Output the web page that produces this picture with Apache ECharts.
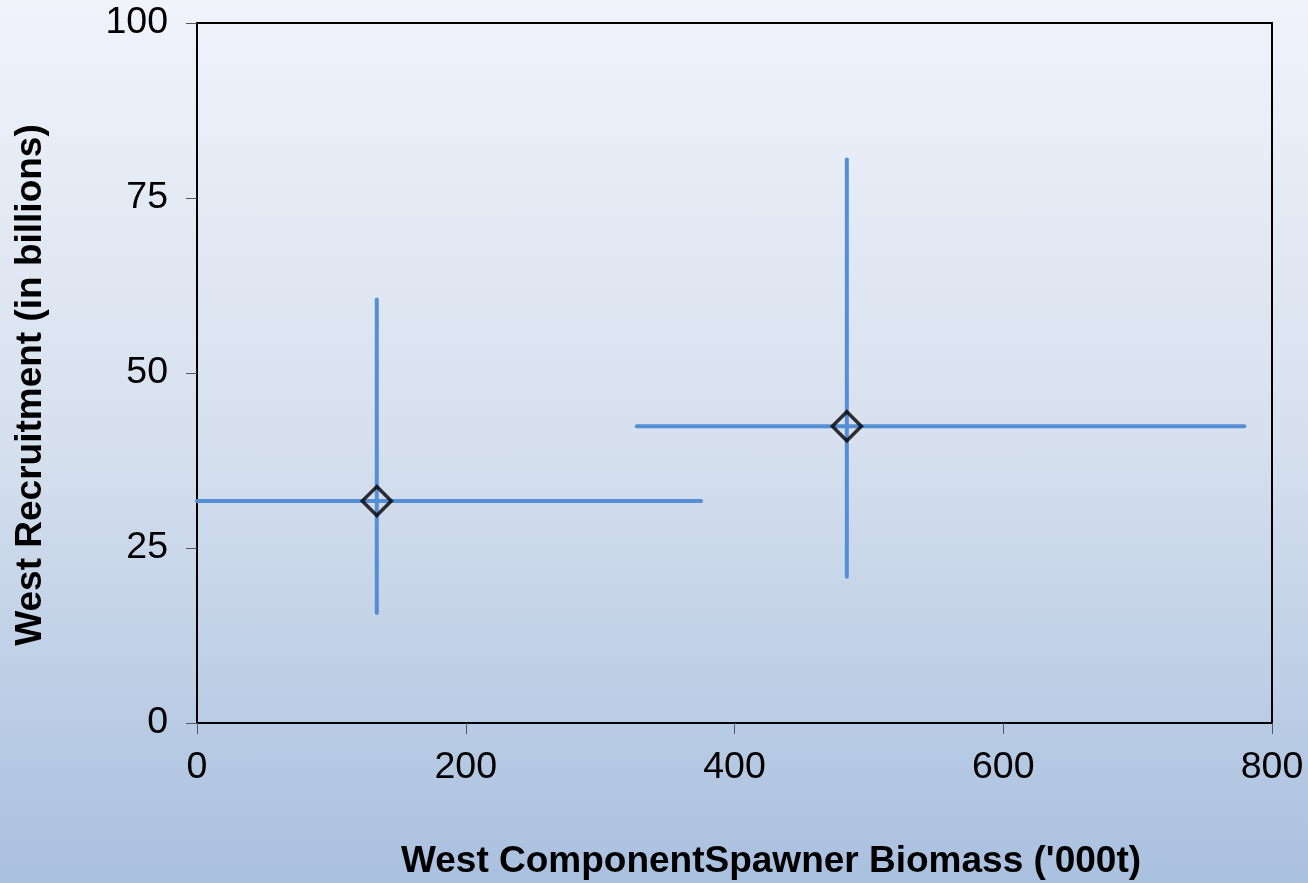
<!DOCTYPE html>
<html>
<head>
<meta charset="utf-8">
<script src="https://cdn.jsdelivr.net/npm/echarts@6/dist/echarts.min.js"></script>
<style>
html,body{margin:0;padding:0;}
#chart{width:1308px;height:883px;background:linear-gradient(to bottom,#f0f3fa 0%,#d6e0ee 50%,#a9c0df 100%);}
</style>
</head>
<body>
<div id="chart"></div>
<script>
// Data
var pointsX = [133.8, 483.6];
var pointsY = [31.7, 42.4];
var xLow = [0, 327.3];
var xHigh = [375.2, 779.4];
var yLow = [15.7, 20.9];
var yHigh = [60.5, 80.5];
var xTicks = [0, 200, 400, 600, 800];
var yTicks = [0, 25, 50, 75, 100];
var xTitle = "West ComponentSpawner Biomass ('000t)";
var yTitle = "West Recruitment (in billions)";

var chart = echarts.init(document.getElementById('chart'), null, {renderer: 'canvas'});
var errData = pointsX.map(function (x, i) {
  return [x, pointsY[i], xLow[i], xHigh[i], yLow[i], yHigh[i]];
});
var scatterData = pointsX.map(function (x, i) { return [x, pointsY[i]]; });
var blue = '#558ed5';
var font = 'Liberation Sans, Arial, sans-serif';

chart.setOption({
  backgroundColor: 'transparent',
  animation: false,
  grid: {left: 197, top: 23, right: 36, bottom: 160, show: true, borderColor: '#000', borderWidth: 2, backgroundColor: 'transparent'},
  xAxis: {
    type: 'value', min: xTicks[0], max: xTicks[xTicks.length - 1], interval: 200,
    axisLine: {show: true, onZero: false, lineStyle: {color: '#000', width: 2}},
    axisTick: {show: true, length: 11, lineStyle: {color: '#555', width: 1}},
    axisLabel: {color: '#000', fontSize: 37.5, fontFamily: font, margin: 26},
    splitLine: {show: false}
  },
  yAxis: {
    type: 'value', min: yTicks[0], max: yTicks[yTicks.length - 1], interval: 25,
    axisLine: {show: true, onZero: false, lineStyle: {color: '#000', width: 2}},
    axisTick: {show: true, length: 11, lineStyle: {color: '#555', width: 1}},
    axisLabel: {color: '#000', fontSize: 37.5, fontFamily: font, margin: 29},
    splitLine: {show: false}
  },
  graphic: [
    {type: 'text', x: 771, y: 862, style: {text: xTitle, font: 'bold 37px ' + font, fill: '#000', textAlign: 'center', textVerticalAlign: 'middle'}},
    {type: 'text', x: 31, y: 385, rotation: Math.PI / 2, style: {text: yTitle, font: 'bold 37px ' + font, fill: '#000', textAlign: 'center', textVerticalAlign: 'middle'}}
  ],
  series: [
    {
      type: 'custom',
      data: errData,
      z: 2,
      renderItem: function (params, api) {
        var c = api.coord([api.value(0), api.value(1)]);
        var l = api.coord([api.value(2), api.value(1)]);
        var r = api.coord([api.value(3), api.value(1)]);
        var b = api.coord([api.value(0), api.value(4)]);
        var t = api.coord([api.value(0), api.value(5)]);
        var st = {stroke: blue, lineWidth: 4, lineCap: 'round'};
        return {
          type: 'group',
          children: [
            {type: 'line', shape: {x1: l[0], y1: l[1], x2: r[0], y2: r[1]}, style: st},
            {type: 'line', shape: {x1: c[0], y1: b[1], x2: c[0], y2: t[1]}, style: st}
          ]
        };
      }
    },
    {
      type: 'scatter',
      data: scatterData,
      z: 3,
      symbol: 'diamond',
      symbolSize: [29, 29],
      itemStyle: {color: 'rgba(0,0,0,0)', borderColor: '#000', borderWidth: 3.5}
    }
  ]
});
</script>
</body>
</html>
